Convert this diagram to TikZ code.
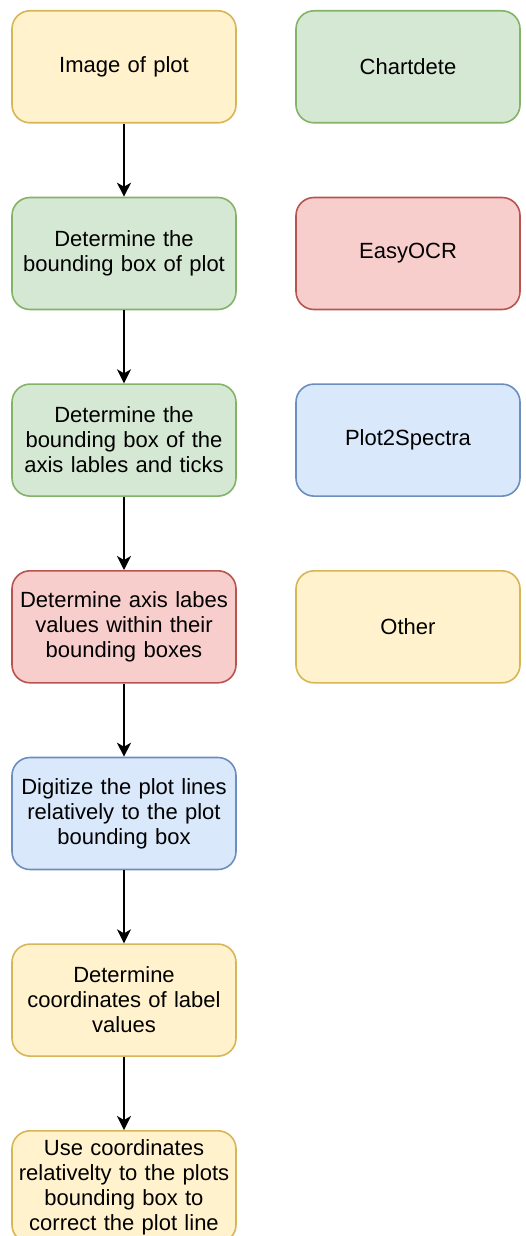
\documentclass[tikz,border=0pt]{standalone}
\usepackage{fontspec}
\setmainfont{Liberation Sans}
\usetikzlibrary{arrows.meta}
\definecolor{yfill}{HTML}{FFF2CC}\definecolor{ydraw}{HTML}{D6B656}
\definecolor{gfill}{HTML}{D5E8D4}\definecolor{gdraw}{HTML}{82B366}
\definecolor{rfill}{HTML}{F8CECC}\definecolor{rdraw}{HTML}{B85450}
\definecolor{bfill}{HTML}{DAE8FC}\definecolor{bdraw}{HTML}{6C8EBF}
\tikzset{
  box/.style={rectangle, rounded corners=18pt, line width=1.6pt, minimum width=224pt, minimum height=112pt,
    text width=216pt, align=center, inner sep=3pt, anchor=north,
    font=\fontsize{22pt}{25pt}\selectfont},
  ybox/.style={box, fill=yfill, draw=ydraw},
  gbox/.style={box, fill=gfill, draw=gdraw},
  rbox/.style={box, fill=rfill, draw=rdraw},
  bbox/.style={box, fill=bfill, draw=bdraw},
  arr/.style={line width=1.6pt, -{Stealth[length=14pt, width=14pt, inset=4pt]}}
}
\begin{document}
\begin{tikzpicture}[x=1pt, y=-1pt]
\clip (0,0) rectangle (525,1236);
\node[ybox] (n1) at (124,10) {Image of plot};
\node[gbox] (n2) at (124,196.7) {Determine the\\bounding box of plot};
\node[gbox] (n3) at (124,383.3) {Determine the\\bounding box of the\\axis lables and ticks};
\node[rbox] (n4) at (124,570) {Determine axis labes\\values within their\\bounding boxes};
\node[bbox] (n5) at (124,756.7) {Digitize the plot lines\\relatively to the plot\\bounding box};
\node[ybox] (n6) at (124,943.3) {Determine\\coordinates of label\\values};
\node[ybox] (n7) at (124,1130) {Use coordinates\\relativelty to the plots\\bounding box to\\correct the plot line};
\node[gbox] (r1) at (408,10) {Chartdete};
\node[rbox] (r2) at (408,196.7) {EasyOCR};
\node[bbox] (r3) at (408,383.3) {Plot2Spectra};
\node[ybox] (r4) at (408,570) {Other};
\draw[arr] (n1) -- (n2);
\draw[arr] (n2) -- (n3);
\draw[arr] (n3) -- (n4);
\draw[arr] (n4) -- (n5);
\draw[arr] (n5) -- (n6);
\draw[arr] (n6) -- (n7);
\end{tikzpicture}
\end{document}
